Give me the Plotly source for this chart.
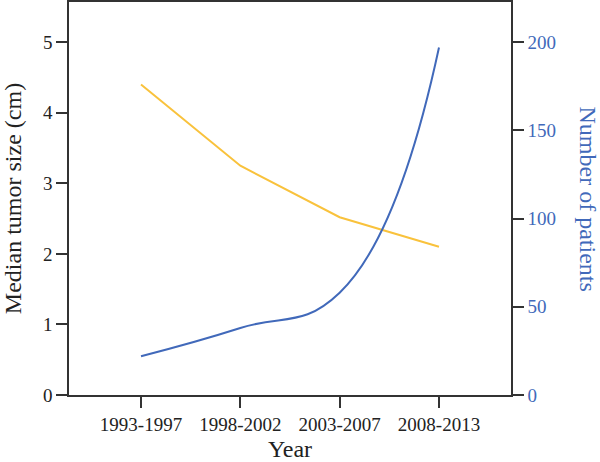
import plotly.graph_objects as go

periods = ["1993-1997", "1998-2002", "2003-2007", "2008-2013"]
tumor_size = [4.4, 3.25, 2.52, 2.1]
patients = [22, 38, 58, 197]

BLUE = "#4169BA"
YELLOW = "#F9C23C"
FONT = "Liberation Serif"

fig = go.Figure()
fig.add_trace(go.Scatter(
    x=periods, y=tumor_size, mode="lines",
    line=dict(color=YELLOW, width=2), yaxis="y"
))
fig.add_trace(go.Scatter(
    x=periods, y=patients, mode="lines",
    line=dict(color=BLUE, width=2, shape="spline", smoothing=1.3), yaxis="y2"
))

axis_line = dict(showline=True, linecolor="#333333", linewidth=1.5,
                 ticks="outside", ticklen=11, tickwidth=1.5, tickcolor="#333333",
                 showgrid=False, zeroline=False, automargin=False)

fig.update_layout(
    width=600, height=462,
    margin=dict(l=69, r=89, t=2, b=67),
    plot_bgcolor="white", paper_bgcolor="white",
    showlegend=False,
    font=dict(family=FONT, size=19, color="#222222"),
    xaxis=dict(**axis_line, range=[-0.725, 3.725], mirror=True,
               title=dict(text="Year", font=dict(size=24), standoff=8)),
    yaxis=dict(**axis_line, range=[0, 5.57], dtick=1, mirror=True,
               title=dict(text="Median tumor size (cm)", font=dict(size=24), standoff=17)),
    yaxis2=dict(**axis_line, overlaying="y", side="right", range=[0, 222.8], dtick=50,
                tickfont=dict(color=BLUE)),
    annotations=[dict(
        text="Number of patients", textangle=90, showarrow=False,
        xref="paper", yref="paper", x=1.0, y=0.5, xanchor="center", yanchor="middle",
        xshift=77, font=dict(size=24, color=BLUE, family=FONT)
    )],
)

fig.write_html("out.html", config={"displayModeBar": False},
               post_script="document.body.style.margin='0';")
